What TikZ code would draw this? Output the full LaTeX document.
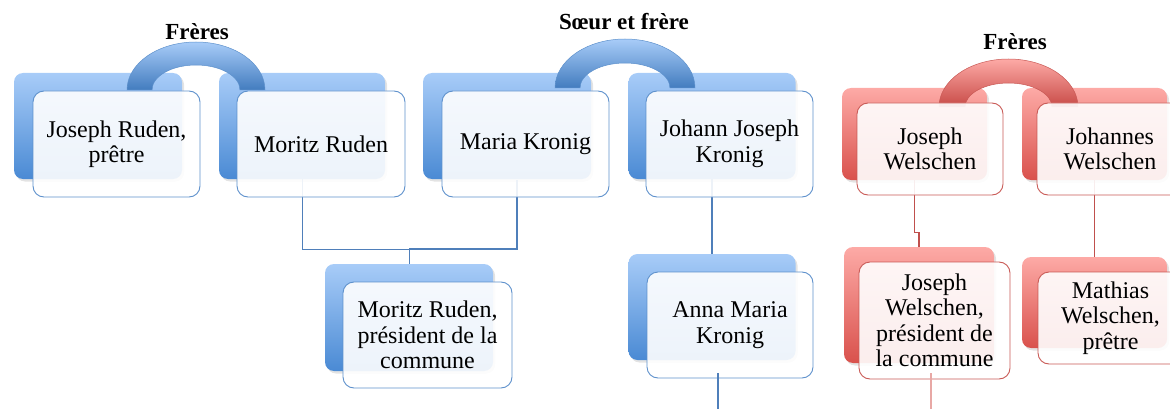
\documentclass[tikz,border=0pt]{standalone}
\usepackage{fontspec}
\setmainfont{Liberation Serif}
\usetikzlibrary{shadows}
\definecolor{btop}{HTML}{A8CCF8}
\definecolor{bbot}{HTML}{4A8AD4}
\definecolor{blinec}{HTML}{4F7FBA}
\definecolor{bedge}{HTML}{5E91CC}
\definecolor{rtop}{HTML}{FDAAA6}
\definecolor{rbot}{HTML}{D9514C}
\definecolor{rlinec}{HTML}{C0504D}
\definecolor{rpale}{HTML}{E8A8A5}
\definecolor{redge}{HTML}{C95A56}
\begin{document}
\begin{tikzpicture}[x=1pt,y=1pt,
 tab/.style={rectangle, rounded corners=9pt, inner sep=0pt, draw=none,
   drop shadow={shadow xshift=2pt, shadow yshift=-2.5pt, opacity=0.22}},
 btab/.style={tab, top color=btop, bottom color=bbot},
 rtab/.style={tab, top color=rtop, bottom color=rbot},
 card/.style={rectangle, rounded corners=11pt, inner sep=2pt, fill=white,
   fill opacity=0.9, text opacity=1, line width=0.9pt, align=center,
   font=\fontsize{24}{25.5}\selectfont, text=black},
 bcard/.style={card, draw=bedge},
 rcard/.style={card, draw=redge},
 barc/.style={top color=btop, bottom color=bbot!90!black, draw=bedge, line width=0.5pt},
 rarc/.style={top color=rtop, bottom color=rbot!92!black, draw=redge, line width=0.5pt},
 bconn/.style={color=blinec, line width=1.2pt},
 rconn/.style={color=rlinec, line width=1.1pt},
 lbl/.style={font=\bfseries\fontsize{23}{25}\selectfont, text=black}
]
\useasboundingbox (0,0) rectangle (1170,-409);
\clip (0,0) rectangle (1170,-409);

% back tabs (blue)
\node[btab, minimum width=168pt, minimum height=106pt] (jrT) at (98,-126) {};
\node[btab, minimum width=166pt, minimum height=106pt] (mrT) at (302,-126) {};
\node[btab, minimum width=168pt, minimum height=106pt] (mkT) at (507,-126) {};
\node[btab, minimum width=167pt, minimum height=106pt] (jjT) at (712,-126) {};
\node[btab, minimum width=168pt, minimum height=107pt] (mpT) at (409,-317.5) {};
\node[btab, minimum width=167pt, minimum height=106pt] (amT) at (712,-307) {};
% back tabs (red)
\node[rtab, minimum width=145pt, minimum height=92pt] (jwT) at (914.5,-134) {};
\node[rtab, minimum width=145pt, minimum height=92pt] (jhT) at (1094.5,-134) {};
\node[rtab, minimum width=150pt, minimum height=116pt] (jpT) at (919,-305) {};
\node[rtab, minimum width=145pt, minimum height=91pt] (mwT) at (1094.5,-302.5) {};

% arcs
\path[barc] (127,-90) arc[start angle=180, end angle=0, x radius=69pt, y radius=48pt]
  -- (240,-90) arc[start angle=0, end angle=180, x radius=44pt, y radius=25pt] -- cycle;
\path[barc] (555,-88) arc[start angle=180, end angle=0, x radius=70pt, y radius=49pt]
  -- (670,-88) arc[start angle=0, end angle=180, x radius=45pt, y radius=25pt] -- cycle;
\path[rarc] (939,-107) arc[start angle=180, end angle=0, x radius=69.5pt, y radius=48pt]
  -- (1052,-107) arc[start angle=0, end angle=180, x radius=43.5pt, y radius=24pt] -- cycle;

% labels
\node[lbl] (l1) at (197,-32) {Frères};
\node[lbl] (l2) at (624,-22) {Sœur et frère};
\node[lbl] (l3) at (1015,-42) {Frères};

% connectors
\coordinate (mkB) at (517,-180);
\coordinate (jn1) at (409,-249);
\coordinate (amOut) at (718,-409);
\coordinate (jpOut) at (931,-409);
\draw[bconn, line width=1.1pt] (jjT.south) -- (amT.north);
\draw[bconn, line width=1pt] (mrT.south) |- (jn1);
\draw[bconn] (jn1) -| (mkB);
\draw[bconn, line width=1pt] (jn1) -- (mpT.north);
\draw[rconn] (jwT.south) -- ++(0,-52) -| (jpT.north);
\draw[rconn] (jhT.south) -- (mwT.north);

% front cards (blue)
\node[bcard, minimum width=167pt, minimum height=106pt] (jr) at (116.5,-144) {Joseph Ruden,\\prêtre};
\node[bcard, minimum width=168pt, minimum height=106pt] (mr) at (321,-144) {Moritz Ruden};
\node[bcard, minimum width=167pt, minimum height=106pt] (mk) at (525.5,-144) {Maria Kronig};
\node[bcard, minimum width=167pt, minimum height=106pt] (jj) at (729.5,-144) {Johann Joseph\\Kronig};
\node[bcard, minimum width=169pt, minimum height=106pt] (mp) at (427.5,-335) {Moritz Ruden,\\président de la\\commune};
\node[bcard, minimum width=166pt, minimum height=106pt] (am) at (730,-325) {Anna Maria\\Kronig};
% front cards (red)
\node[rcard, minimum width=146pt, minimum height=92pt] (jw) at (930,-149) {Joseph\\Welschen};
\node[rcard, minimum width=146pt, minimum height=92pt] (jh) at (1110,-149) {Johannes\\Welschen};
\node[rcard, minimum width=151pt, minimum height=117pt] (jp) at (934.5,-320.5) {Joseph\\Welschen,\\président de\\la commune};
\node[rcard, minimum width=145pt, minimum height=92pt] (mw) at (1110.5,-318) {Mathias\\Welschen,\\prêtre};

% outgoing lines
\draw[bconn, line width=1.8pt] ([xshift=-12pt,yshift=5pt]am.south) -- (amOut);
\draw[color=rpale, line width=1.1pt] ([xshift=-3.5pt,yshift=6pt]jp.south) -- (jpOut);
\end{tikzpicture}
\end{document}
